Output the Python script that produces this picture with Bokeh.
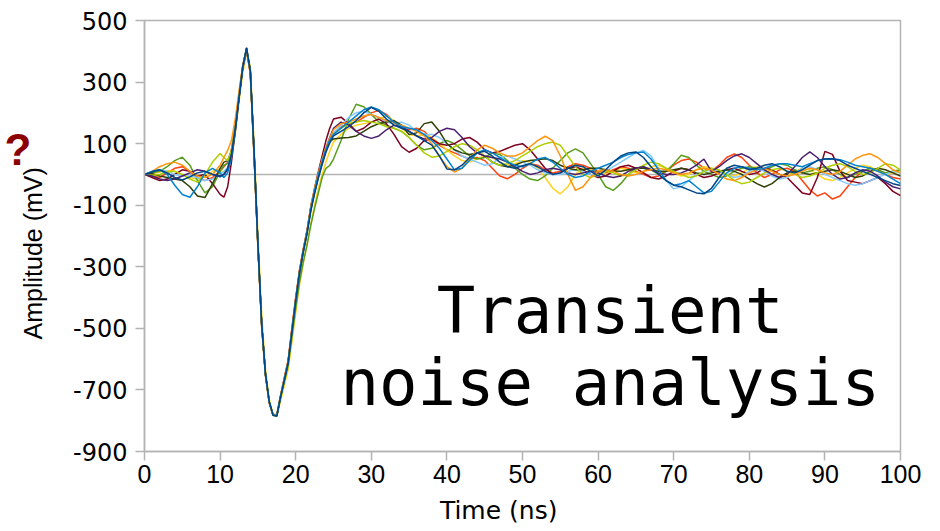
from bokeh.plotting import figure
from bokeh.models import Span, Label, FixedTicker, Range1d, LinearAxis
from bokeh.embed import file_html
from bokeh.resources import INLINE

# ---------------- data ----------------
time_ns = [0, 1, 2, 3, 4, 5, 6, 7, 8, 9, 10,
           10.5, 11, 11.5, 12, 12.5, 13, 13.5, 14, 14.5, 15, 15.5, 16, 16.5, 17, 17.5,
           18, 18.5, 19, 19.5, 20, 20.5, 21, 21.5, 22, 22.5, 23, 23.5, 24, 24.5,
           25, 26, 27, 28, 29, 30, 31, 32, 33, 34, 35, 36, 37, 38, 39, 40, 41, 42, 43, 44,
           45, 46, 47, 48, 49, 50, 51, 52, 53, 54, 55, 56, 57, 58, 59, 60, 61, 62, 63, 64,
           65, 66, 67, 68, 69, 70, 71, 72, 73, 74, 75, 76, 77, 78, 79, 80, 81, 82, 83, 84,
           85, 86, 87, 88, 89, 90, 91, 92, 93, 94, 95, 96, 97, 98, 99, 100]

run_dark_blue = [0, 8, 15, 5, -10, -18, -8, 5, 10, 0, -8,
                 0, 20, 65, 148, 250, 352, 410, 335, 70, -225, -485, -648, -738, -782, -785,
                 -722, -668, -612, -512, -412, -322, -252, -192, -118, -62, -12, 32, 72, 102,
                 125, 140, 155, 175, 200, 218, 205, 180, 160, 150,
                 140, 125, 110, 95, 60, 18, 15, 30, 55, 70,
                 75, 60, 40, 25, 20, 28, 35, 25, 10, 0,
                 5, 20, 30, 25, 10, -5, 15, 40, 60, 70,
                 73, 55, 25, 0, -20, -35, -40, -50, -60, -63,
                 -45, -10, 20, 30, 25, 15, 20, 30, 35, 25,
                 10, 5, 15, 30, 45, 50, 51, 45, 30, 20,
                 10, 0, -10, -20, -30, -36]

run_orange_red = [0, -5, -10, 5, 20, 25, 10, -10, -20, -10, 10,
                  25, 40, 80, 160, 262, 355, 405, 325, 55, -235, -495, -652, -742, -780, -780,
                  -718, -660, -605, -500, -400, -312, -245, -185, -108, -52, -2, 42, 82, 112,
                  135, 155, 165, 170, 185, 200, 208, 195, 170, 150,
                  145, 150, 140, 115, 95, 80, 70, 60, 50, 55,
                  45, 20, -5, -14, 0, 20, 35, 30, 15, 5,
                  10, 25, 35, 30, 20, 10, 5, 15, 25, 20,
                  10, 0, -10, -5, 10, 30, 45, 50, 40, 20,
                  10, 30, 55, 67, 55, 30, 5, -10, 0, 15,
                  20, 10, -20, -50, -70, -60, -80, -70, -40, -10,
                  10, 20, 15, 0, -10, -15]

run_yellow = [0, 3, 8, 12, 10, 0, -10, -15, -5, 10, 15,
              5, 15, 55, 130, 235, 330, 395, 350, 100, -190, -450, -630, -730, -778, -785,
              -735, -685, -635, -545, -450, -360, -290, -225, -160, -100, -45, 0, 40, 75,
              105, 130, 150, 160, 165, 170, 180, 190, 175, 150,
              130, 125, 130, 120, 100, 80, 60, 45, 40, 50,
              60, 55, 40, 30, 35, 45, 40, 20, -10, -45,
              -63, -40, 0, 20, 15, 5, 0, 10, 20, 15,
              5, 10, 25, 30, 20, 5, -5, 0, 15, 25,
              20, 10, 0, -5, 5, 20, 25, 15, 0, -10,
              -5, 10, 20, 15, 0, -15, -20, -10, 5, 20,
              30, 25, 10, 0, 5, 10]

run_green = [0, 5, 10, 25, 45, 56, 30, -20, -60, -40, 10,
             30, 35, 70, 150, 255, 348, 405, 330, 65, -228, -488, -650, -742, -782, -784,
             -725, -672, -622, -528, -435, -350, -285, -230, -165, -110, -60, -10, 20, 29,
             50, 110, 180, 228, 220, 195, 170, 160, 150, 140,
             120, 95, 80, 85, 100, 110, 100, 80, 60, 50,
             55, 70, 65, 45, 20, 0, -15, -20, -5, 20,
             45, 70, 83, 70, 35, 0, -40, -52, -30, 0,
             20, 25, 15, 0, 10, 35, 62, 55, 30, 10,
             0, -10, -5, 10, 20, 25, 20, 15, 25, 35,
             30, 15, 5, 10, 20, 25, 15, 0, -10, 0,
             10, 20, 15, 5, 10, 15]

run_maroon = [0, -10, -20, -15, 0, 15, 10, -5, 0, -30, -65,
              -74, -40, 40, 140, 250, 350, 408, 332, 62, -228, -488, -650, -740, -781, -783,
              -720, -662, -606, -505, -405, -315, -245, -183, -105, -45, 10, 60, 110, 150,
              180, 186, 165, 140, 150, 170, 180, 165, 130, 90,
              72, 85, 110, 115, 100, 95, 100, 115, 120, 105,
              80, 70, 75, 85, 95, 100, 80, 50, 20, 0,
              5, 20, 25, 15, 0, -10, -5, 10, 25, 30,
              20, 5, -10, -15, -5, 10, 20, 15, 0, -10,
              -5, 5, 15, 20, 10, 0, 5, 20, 15, 0,
              -10, -35, -60, -65, -10, 75, 65, 10, -20, -25,
              -30, -20, -10, -30, -55, -69]

run_light_blue = [0, 10, 15, 10, 0, -5, -5, -10, -20, -15, 0,
                  10, 22, 68, 150, 252, 350, 405, 330, 60, -232, -492, -652, -742, -781, -782,
                  -720, -665, -610, -508, -410, -320, -250, -188, -112, -55, -5, 40, 80, 110,
                  135, 160, 185, 200, 205, 195, 185, 170, 165, 170,
                  160, 140, 130, 130, 120, 100, 80, 60, 50, 40,
                  30, 35, 55, 60, 50, 40, 30, 15, 5, 0,
                  0, 10, 15, 10, 0, -5, 10, 25, 40, 55,
                  70, 78, 60, 20, -20, -47, -40, -20, 0, 10,
                  15, 10, 0, -10, -5, 10, 20, 10, -5, -15,
                  -10, 5, 20, 25, 15, 0, -10, -20, -30, -35,
                  -30, -20, -10, 0, 10, 5]

run_olive = [0, 2, -5, -10, -15, -20, -40, -70, -75, -30, 20,
             40, 45, 75, 150, 250, 350, 412, 338, 70, -225, -485, -648, -740, -782, -785,
             -725, -668, -612, -510, -412, -322, -252, -190, -115, -58, -8, 38, 78, 108,
             115, 118, 120, 125, 140, 155, 165, 170, 175, 160,
             130, 135, 165, 170, 140, 100, 80, 70, 65, 70,
             60, 40, 30, 25, 30, 40, 45, 48, 51, 45,
             30, 20, 15, 15, 20, 20, 15, 10, 10, 15,
             20, 20, 15, 10, 10, 15, 20, 15, 5, 0,
             5, 10, 15, 10, 0, -15, -30, -41, -30, -10,
             5, 10, 5, 0, 5, 10, 15, 10, 0, -10,
             -5, 10, 20, 15, 5, -5]

run_lime = [0, -3, 0, 8, 10, 0, -15, -25, 0, 40, 68,
            55, 45, 78, 155, 258, 352, 408, 330, 62, -230, -490, -652, -742, -782, -784,
            -722, -666, -610, -510, -410, -320, -250, -188, -112, -56, -6, 38, 78, 108,
            130, 150, 165, 170, 175, 170, 165, 155, 150, 140,
            120, 95, 70, 56, 60, 75, 90, 100, 95, 80,
            60, 40, 30, 35, 45, 60, 75, 90, 100, 105,
            95, 60, 25, 0, -10, 0, 10, 5, -5, 0,
            15, 30, 40, 35, 20, 10, 0, -10, -5, 10,
            20, 15, 0, -20, -30, -25, -10, 5, 15, 20,
            10, 0, -10, -5, 5, 20, 30, 35, 25, 10,
            0, 5, 20, 35, 30, 15]

run_purple = [0, -5, -15, -20, -15, -5, 5, 15, 10, 0, -5,
              0, 15, 60, 140, 245, 345, 402, 332, 65, -228, -488, -650, -740, -781, -783,
              -720, -664, -608, -506, -406, -316, -246, -185, -108, -50, 0, 45, 85, 120,
              150, 170, 160, 140, 125, 117, 125, 145, 160, 155,
              140, 125, 115, 120, 140, 150, 145, 120, 90, 70,
              60, 55, 50, 40, 25, 10, 0, 5, 15, 20,
              15, 5, 0, 5, 10, 5, -5, -10, -5, 10,
              20, 25, 15, 5, 0, 0, 5, 15, 30, 50,
              10, 25, 45, 60, 67, 55, 35, 15, 0, -10,
              0, 25, 55, 73, 55, 25, 0, -15, -10, 5,
              15, 10, -5, -25, -40, -47]

run_orange = [0, 10, 25, 35, 40, 30, 10, -5, -10, 0, 30,
              55, 78, 110, 180, 270, 355, 405, 325, 55, -235, -495, -652, -742, -780, -781,
              -718, -660, -604, -500, -402, -312, -242, -180, -102, -45, 5, 50, 88, 118,
              145, 165, 170, 180, 190, 195, 185, 175, 165, 160,
              150, 140, 125, 100, 60, 25, 8, 20, 50, 80,
              95, 85, 70, 60, 60, 70, 90, 110, 124, 110,
              60, 0, -52, -40, -10, 10, 15, 10, 0, -5,
              0, 10, 15, 20, 15, 5, 0, 5, 15, 20,
              15, 0, -15, -20, -10, 5, 15, 20, 10, 0,
              -5, 0, 10, 20, 15, 5, 0, 10, 30, 50,
              62, 67, 55, 35, 15, 5]

run_blue = [0, 10, 15, 0, -35, -65, -74, -40, 5, 20, 5,
            -10, 5, 55, 140, 248, 348, 410, 335, 68, -226, -486, -648, -738, -781, -784,
            -722, -666, -610, -508, -408, -318, -248, -186, -110, -52, -2, 42, 82, 112,
            130, 150, 170, 190, 210, 219, 210, 190, 170, 155,
            150, 145, 130, 110, 85, 50, 15, 20, 45, 70,
            80, 70, 55, 40, 30, 25, 35, 50, 55, 40,
            20, 0, -10, -5, 10, 20, 30, 40, 55, 65,
            70, 73, 50, 15, -20, -35, -30, -20, -40, -60,
            -55, -25, 5, 20, 25, 20, 15, 20, 30, 35,
            35, 30, 25, 35, 45, 50, 51, 48, 40, 30,
            25, 20, 10, 0, -15, -30]

runs = [run_orange_red, run_yellow, run_green, run_maroon, run_light_blue,
        run_olive, run_lime, run_purple, run_orange, run_blue, run_dark_blue]
run_colors = ["#ff420e", "#ffd320", "#579d1c", "#7e0021", "#83caff",
              "#314004", "#aecf00", "#4b1f6f", "#ff950e", "#0084d1", "#004586"]

x_ticks = [0, 10, 20, 30, 40, 50, 60, 70, 80, 90, 100]
y_ticks = [-900, -700, -500, -300, -100, 100, 300, 500]

for r in runs:
    assert len(r) == len(time_ns), len(r)

# ---------------- figure ----------------
GRID = "#b3b3b3"
NBSP = "\u00a0"

p = figure(width=940, height=531, output_backend="svg", toolbar_location=None,
           x_range=Range1d(0, 100), y_range=Range1d(-900, 500),
           min_border_left=144, min_border_right=40, min_border_top=20,
           min_border_bottom=80, background_fill_color="white",
           border_fill_color="white")
p.xgrid.visible = False
p.ygrid.visible = False
p.outline_line_color = GRID
p.outline_line_width = 1.5

zero = Span(location=0, dimension="width", line_color=GRID, line_width=1.5,
            level="underlay")
p.add_layout(zero)

for r, c in zip(runs, run_colors):
    p.line(time_ns, r, line_color=c, line_width=1.5)

p.xaxis.ticker = FixedTicker(ticks=x_ticks)
p.yaxis.ticker = FixedTicker(ticks=y_ticks)
p.yaxis.major_label_overrides = {t: str(t) for t in y_ticks}
for ax in (p.xaxis[0], p.yaxis[0]):
    ax.axis_line_color = GRID
    ax.axis_line_width = 1.5
    ax.major_tick_line_color = GRID
    ax.major_tick_line_width = 1.5
    ax.major_tick_out = 9
    ax.major_tick_in = 0
    ax.minor_tick_line_color = None
    ax.major_label_text_color = "black"
    ax.axis_label_text_font_style = "normal"
    ax.axis_label_text_color = "black"

p.xaxis.major_label_text_font = "Liberation Sans"
p.xaxis.major_label_text_font_size = "25px"
p.xaxis.major_label_standoff = 4
p.xaxis.axis_label = "Time (ns)" + NBSP * 6
p.xaxis.axis_label_text_font = "DejaVu Sans"
p.xaxis.axis_label_text_font_size = "25px"
p.xaxis.axis_label_standoff = 10

p.yaxis.major_label_text_font = "DejaVu Sans"
p.yaxis.major_label_text_font_size = "24px"
p.yaxis.major_label_standoff = 8
p.yaxis.axis_label = "Amplitude (mV)" + NBSP * 5
p.yaxis.axis_label_text_font = "Liberation Sans"
p.yaxis.axis_label_text_font_size = "25px"
p.yaxis.axis_label_standoff = 23

# the dark red question mark, drawn as the single label of an outer left axis
q_axis = LinearAxis(ticker=FixedTicker(ticks=[81]),
                    major_label_overrides={81: "?"},
                    axis_line_color=None, major_tick_line_color=None,
                    minor_tick_line_color=None, major_tick_out=0, major_tick_in=0,
                    major_label_text_font="Liberation Sans",
                    major_label_text_font_style="bold",
                    major_label_text_font_size="44px",
                    major_label_text_color="#8b0000",
                    major_label_standoff=-15)
p.add_layout(q_axis, "left")

p.add_layout(Label(x=61.6, y=-445, text="Transient", text_align="center",
                   text_baseline="alphabetic", text_font="DejaVu Sans Mono",
                   text_font_size="64px", text_color="black"))
p.add_layout(Label(x=61.6, y=-676, text="noise analysis", text_align="center",
                   text_baseline="alphabetic", text_font="DejaVu Sans Mono",
                   text_font_size="64px", text_color="black"))

open("out.html", "w").write(file_html(p, INLINE))
